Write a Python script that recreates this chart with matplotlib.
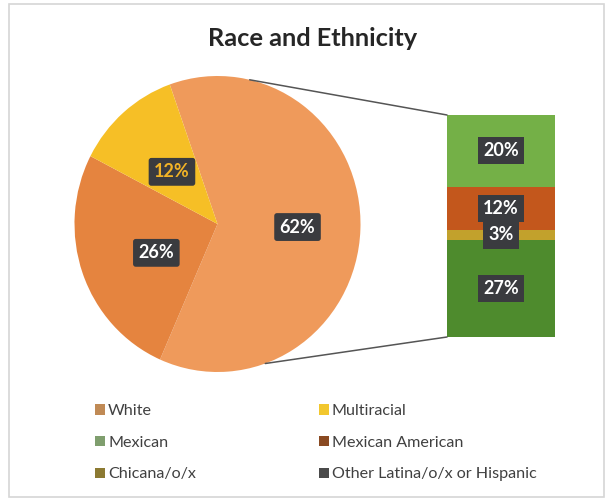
import matplotlib
matplotlib.use("Agg")
import matplotlib.pyplot as plt
from matplotlib.patches import Patch, Rectangle, ConnectionPatch
import numpy as np

# Pie data (percent of total)
pie_labels = ["White", "Other", "Multiracial"]
pie_values = [62, 26, 12]
pie_colors = ["#EF9A5B", "#E5843F", "#F6BF26"]
pie_text_colors = ["white", "white", "#F2B326"]

# Breakdown bar data, bottom to top
bar_labels = ["Other Latina/o/x or Hispanic", "Chicana/o/x", "Mexican American", "Mexican"]
bar_values = [27, 3, 12, 20]
bar_colors = ["#4E8B2D", "#C2A12C", "#C3571C", "#74B047"]

# Legend entries (row by row)
legend_labels = ["White", "Multiracial", "Mexican", "Mexican American",
                 "Chicana/o/x", "Other Latina/o/x or Hispanic"]
legend_colors = ["#C08A55", "#F2C72E", "#7F9E6E", "#8A4A22", "#8C7A32", "#4A4A4A"]

W, H = 608, 501
fig = plt.figure(figsize=(W / 100, H / 100), dpi=100)
fig.patch.set_facecolor("white")
plt.rcParams["font.family"] = ["Lato", "DejaVu Sans"]


def px_axes(x0, y0, x1, y1):
    return fig.add_axes([x0 / W, 1 - y1 / H, (x1 - x0) / W, (y1 - y0) / H])


# Outer chart frame
frame = Rectangle((9 / W, 4 / H), (604 - 9) / W, (497 - 4) / H,
                  transform=fig.transFigure, fill=False,
                  edgecolor="#D6D6D6", linewidth=1.2)
fig.patches.append(frame)

fig.text(313 / W, 1 - 38 / H, "Race and Ethnicity", ha="center", va="center",
         fontsize=18.3, fontweight="bold", color="#262626")

# Pie
axp = px_axes(74.5, 76, 360.5, 372)
start = 109.5
wedges, _ = axp.pie(pie_values, colors=pie_colors, startangle=start,
                    counterclock=False, radius=1.0)
axp.set_aspect("auto")
axp.set_xlim(-1, 1)
axp.set_ylim(-1, 1)
axp.axis("off")

label_dist = [0.56, 0.47, 0.475]
label_turn = [0, 5, 1]
ang = start
for v, d, turn, tc in zip(pie_values, label_dist, label_turn, pie_text_colors):
    mid = np.deg2rad(ang - v * 3.6 / 2 + turn)
    ang -= v * 3.6
    axp.text(d * np.cos(mid), d * np.sin(mid), f"{v}%", ha="center", va="center",
             fontsize=13, fontweight="bold", color=tc,
             bbox=dict(boxstyle="round,pad=0.3,rounding_size=0.15",
                       facecolor="#3A3B3F", edgecolor="none"))

# Stacked breakdown bar
axb = px_axes(447, 115, 555, 337)
bottom = 0
for v, c in zip(bar_values, bar_colors):
    axb.bar(0, v, width=1.0, bottom=bottom, color=c, edgecolor="none")
    axb.text(0, bottom + v / 2, f"{v}%", ha="center", va="center",
             fontsize=13, fontweight="bold", color="white",
             bbox=dict(boxstyle="square,pad=0.28", facecolor="#3A3B3F",
                       edgecolor="none"))
    bottom += v
axb.set_xlim(-0.5, 0.5)
axb.set_ylim(0, sum(bar_values))
axb.axis("off")

# Connector lines from the pie to the bar
for a, yb in [(77, sum(bar_values)), (-70.5, 0)]:
    t = np.deg2rad(a)
    con = ConnectionPatch(xyA=(np.cos(t), np.sin(t)), coordsA=axp.transData,
                          xyB=(-0.5, yb), coordsB=axb.transData,
                          color="#555555", linewidth=1.1)
    fig.add_artist(con)

# Legend
order = [0, 2, 4, 1, 3, 5]
handles = [Patch(facecolor=legend_colors[i], edgecolor="none") for i in order]
labels = [legend_labels[i] for i in order]
fig.legend(handles, labels, ncol=2, loc="upper left",
           bbox_to_anchor=(95 / W, 1 - 404 / H), frameon=False,
           fontsize=11.6, labelcolor="#404040", handlelength=0.62,
           handleheight=0.62, handletextpad=0.2, columnspacing=7.6,
           labelspacing=1.1, borderaxespad=0, borderpad=0)

fig.savefig("out.png", dpi=100, facecolor="white")
